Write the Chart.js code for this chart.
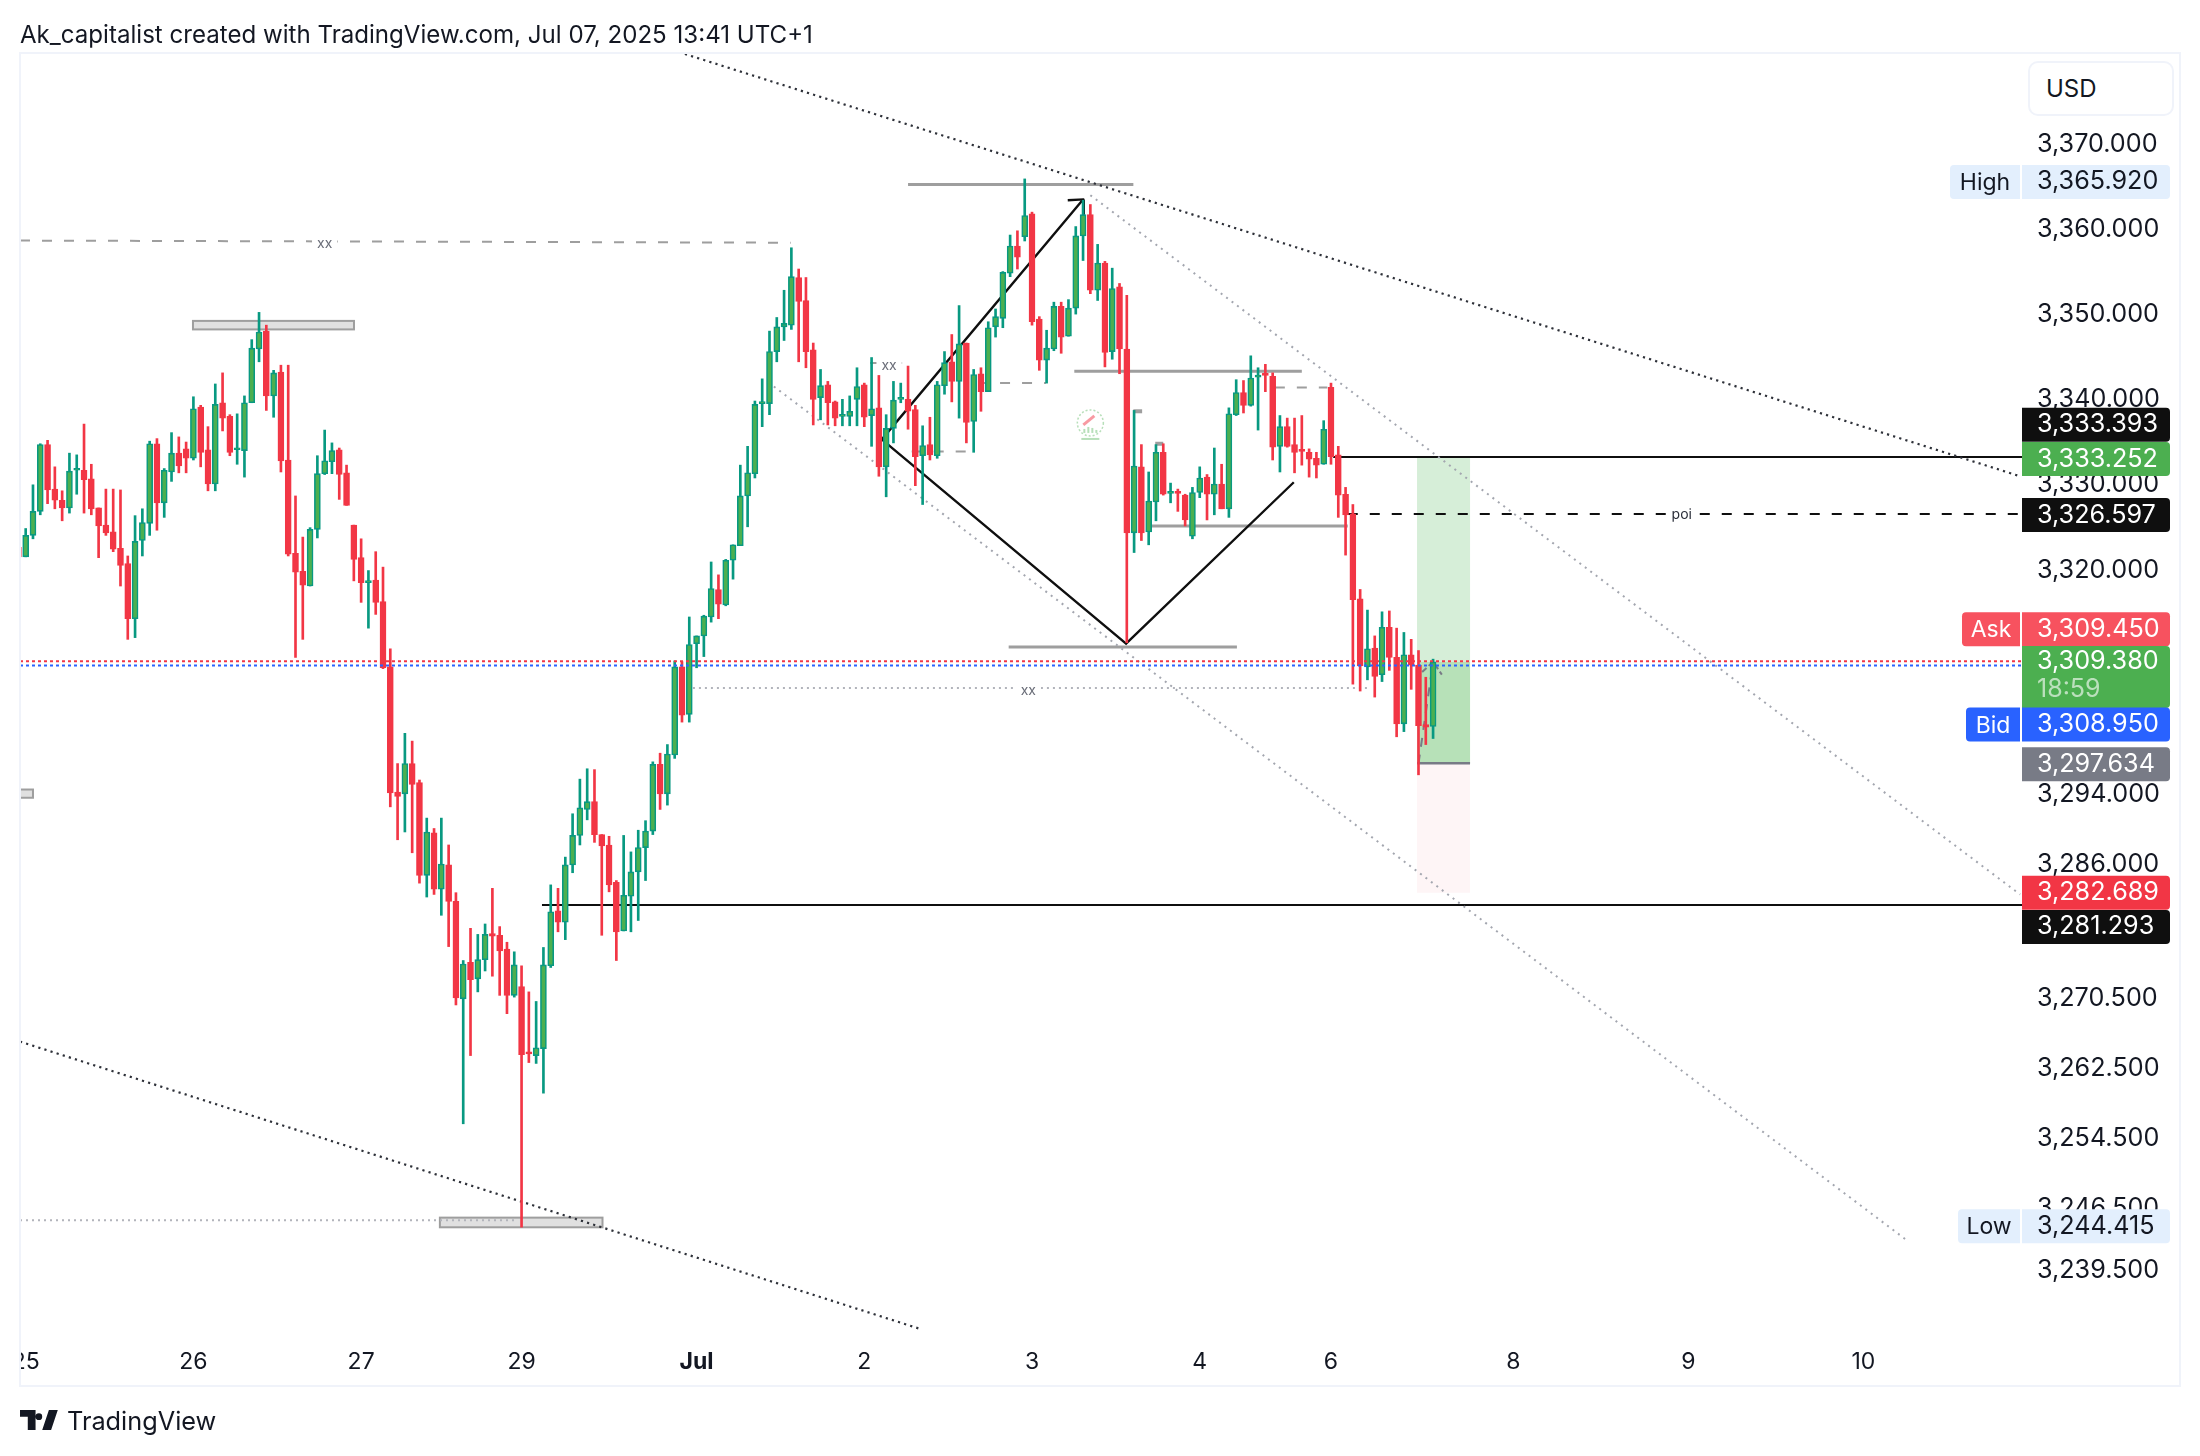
<!DOCTYPE html>
<html>
<head>
<meta charset="utf-8">
<style>
html,body{margin:0;padding:0;background:#fff;width:2200px;height:1456px;overflow:hidden;font-family:Inter,"Liberation Sans",sans-serif;color:#131722}
#wrap{position:relative;width:2200px;height:1456px}
canvas{position:absolute;left:0;top:0}
#title{position:absolute;left:20px;top:20px;font-size:24.1px;line-height:30px;white-space:nowrap;color:#131722}
#usd{position:absolute;left:2028px;top:61px;width:142px;height:51px;border:2px solid #f0f3fa;border-radius:10px;font-size:24px;line-height:51px;text-indent:16px;box-sizing:content-box;background:#fff}
#tv{position:absolute;left:20px;top:1404px;height:32px;display:flex;align-items:center;font-size:25.3px;color:#131722}
#tv svg{width:40px;height:20px;margin-right:7px}
</style>
<script src="https://cdn.jsdelivr.net/npm/chart.js@4/dist/chart.umd.min.js"></script>
</head>
<body>
<div id="wrap">
<canvas id="c" width="2200" height="1456"></canvas>
<div id="title">Ak_capitalist created with TradingView.com, Jul 07, 2025 13:41 UTC+1</div>
<div id="usd">USD</div>
<div id="tv"><svg viewBox="0 0 36 18"><path fill="#131722" d="M14 0H0v6h7v12h7zM34 0h-8l-6 18h8zM20 6a3 3 0 1 0-6 0 3 3 0 0 0 6 0z"/></svg><span>TradingView</span></div>
</div>
<script>
const opens=[3322.7,3321.6,3324.1,3326.9,3334.7,3329.5,3328.2,3327.3,3331.7,3331.7,3330.7,3327.3,3325.3,3324.5,3322.6,3320.8,3314.4,3323.5,3325.5,3334.8,3327.9,3331.5,3333.7,3334.2,3333.1,3339.1,3334.1,3330.1,3339.6,3338.0,3334.1,3334.0,3339.6,3345.9,3348.0,3340.4,3343.2,3332.9,3322.0,3319.9,3318.2,3324.8,3331.3,3332.7,3334.1,3331.4,3325.3,3321.5,3318.6,3318.9,3316.4,3308.8,3294.3,
3294.1,3297.6,3295.4,3284.7,3289.6,3283.1,3285.9,3281.7,3270.5,3274.7,3272.8,3275.0,3278.0,3277.8,3276.2,3270.9,3271.9,3264.4,3264.0,3264.8,3274.3,3280.6,3279.3,3285.9,3289.3,3292.3,3293.2,3289.4,3288.2,3283.9,3278.3,3282.3,3285.1,3287.9,3289.8,3297.5,3294.1,3298.6,3308.8,3303.3,
3311.5,3312.4,3314.6,3317.8,3316.0,3321.2,3322.9,3328.7,3331.3,3339.5,3339.5,3345.6,3348.5,3348.7,3354.3,3351.6,3345.8,3340.2,3341.7,3339.7,3338.0,3338.0,3340.0,3341.7,3338.1,3339.0,3332.1,3336.6,3340.0,3340.0,3338.8,3333.4,3334.7,3333.4,3341.6,3344.4,3342.1,3346.6,3337.4,3343.0,3340.9,3348.5,3349.5,3354.8,3358.0,3359.1,3361.8,3349.4,3344.6,
3345.9,3350.9,3347.4,3350.7,3359.2,3361.7,3352.8,3356.0,3345.6,3353.2,3345.9,3324.4,3332.1,3324.5,3328.0,3333.8,3329.0,3329.2,3328.8,3324.0,3329.1,3330.9,3328.9,3330.1,3327.2,3338.2,3340.8,3339.3,3342.6,3342.9,3342.7,3334.5,3336.8,3334.7,3334.0,3333.8,3333.1,3332.4,3341.4,3333.5,3328.9,
3326.6,3316.7,3308.8,3311.0,3307.9,3313.4,3309.9,3302.2,3310.2,3309.0,3302.1,3301.9];
const highs=[3322.7,3324.9,3330.0,3334.8,3335.2,3332.1,3329.3,3333.7,3333.5,3337.1,3332.4,3327.3,3329.5,3329.5,3329.4,3321.7,3326.4,3327.2,3335.1,3335.4,3331.9,3336.1,3335.6,3335.0,3340.3,3339.3,3336.8,3341.8,3343.1,3338.2,3338.3,3340.4,3347.0,3350.2,3348.7,3343.4,3344.0,3344.0,3328.7,3323.9,3325.0,3333.4,3336.4,3334.9,3334.3,3332.3,3325.3,3323.7,3320.0,3322.2,3320.4,3310.9,3297.6,
3301.1,3300.2,3295.7,3291.3,3290.1,3291.3,3288.2,3282.7,3274.9,3278.6,3277.9,3279.1,3283.2,3278.8,3277.0,3275.9,3274.3,3271.3,3270.2,3276.4,3283.6,3283.2,3286.8,3291.8,3295.8,3297.0,3296.9,3289.4,3289.2,3284.1,3289.3,3287.4,3289.9,3291.0,3297.8,3298.8,3299.8,3309.5,3309.4,3314.6,
3312.4,3314.8,3321.0,3319.5,3321.3,3323.0,3332.3,3334.5,3339.8,3342.4,3348.0,3349.6,3352.8,3357.8,3355.3,3354.3,3346.6,3343.5,3342.1,3339.8,3340.0,3340.4,3343.7,3341.9,3344.9,3342.8,3338.2,3342.1,3341.9,3343.9,3339.3,3336.9,3337.9,3342.1,3345.6,3347.6,3351.0,3346.6,3343.5,3343.7,3349.1,3350.6,3355.0,3359.3,3359.8,3365.92,3362.0,3349.7,3348.1,
3351.4,3351.4,3351.7,3360.3,3363.4,3362.9,3358.2,3356.2,3355.4,3353.6,3352.2,3338.7,3334.7,3331.5,3334.7,3334.8,3330.2,3329.5,3328.9,3329.7,3332.1,3331.2,3334.3,3332.4,3339.0,3342.3,3342.2,3345.1,3343.7,3344.1,3343.1,3338.1,3337.8,3337.8,3338.1,3334.2,3333.8,3337.5,3341.9,3334.5,3329.7,
3327.7,3317.8,3315.4,3312.4,3315.2,3315.3,3313.3,3312.8,3312.0,3310.7,3307.6,3309.7];
const lows=[3321.6,3321.6,3323.7,3326.5,3327.8,3327.2,3325.8,3326.7,3328.9,3326.7,3326.5,3321.5,3324.1,3322.2,3318.2,3312.0,3312.2,3321.7,3324.1,3324.7,3326.2,3330.4,3331.4,3331.4,3332.9,3332.1,3329.3,3329.3,3336.3,3333.4,3332.4,3330.9,3339.6,3344.4,3338.7,3337.9,3331.5,3321.7,3309.9,3312.0,3318.2,3323.8,3331.2,3331.3,3328.3,3327.6,3318.8,3316.3,3313.3,3314.9,3308.6,3292.6,3288.8,
3289.7,3287.3,3283.8,3282.2,3282.5,3280.1,3276.5,3269.8,3256.2,3264.0,3271.3,3273.7,3273.1,3270.9,3268.8,3270.7,3244.415,3263.2,3263.1,3259.7,3274.1,3278.2,3277.3,3285.0,3288.2,3291.1,3288.5,3277.8,3282.8,3274.9,3278.3,3278.2,3279.5,3284.1,3289.4,3292.3,3292.8,3298.2,3302.4,3302.4,
3308.7,3310.0,3314.0,3314.4,3315.9,3319.0,3322.9,3325.1,3330.8,3336.8,3338.2,3344.4,3346.9,3348.2,3344.4,3343.7,3337.0,3337.6,3337.0,3336.9,3336.9,3336.9,3336.9,3336.8,3334.5,3331.0,3328.6,3334.9,3339.6,3336.5,3329.9,3327.7,3332.9,3333.1,3340.6,3339.7,3337.8,3334.9,3333.8,3338.6,3340.9,3347.3,3348.4,3354.4,3355.3,3358.6,3348.7,3343.4,3341.9,
3345.7,3345.4,3347.4,3350.0,3356.3,3352.4,3351.6,3343.8,3344.7,3343.0,3311.6,3322.1,3323.5,3323.0,3325.8,3328.8,3327.9,3326.9,3325.2,3323.7,3328.5,3325.9,3326.5,3327.2,3326.2,3338.1,3338.4,3339.2,3336.4,3340.9,3332.9,3331.5,3334.4,3331.4,3332.3,3330.9,3330.8,3332.4,3332.4,3326.2,3321.8,
3306.8,3306.0,3307.3,3305.3,3307.1,3308.4,3300.7,3301.3,3306.2,3296.3,3299.8,3300.5];
const closes=[3321.6,3324.1,3326.9,3334.7,3329.4,3328.2,3327.3,3331.6,3331.8,3330.6,3327.2,3325.2,3324.4,3322.5,3320.6,3314.4,3323.4,3325.6,3334.8,3327.9,3331.7,3333.7,3332.2,3333.1,3338.9,3333.8,3330.1,3339.4,3337.8,3333.8,3334.3,3339.6,3346.0,3347.9,3340.4,3343.1,3332.8,3321.9,3319.8,3318.3,3324.8,3331.3,3332.8,3334.0,3331.2,3327.6,3321.3,3318.6,3318.8,3316.3,3308.7,3294.2,3293.8,
3297.6,3295.2,3284.7,3289.7,3283.1,3286.0,3281.7,3270.6,3274.5,3272.7,3275.0,3277.9,3277.7,3276.0,3270.9,3274.4,3264.1,3264.2,3264.9,3274.4,3280.5,3279.3,3285.9,3289.3,3292.5,3293.2,3289.4,3288.1,3283.6,3278.2,3282.4,3285.1,3287.9,3289.8,3297.5,3294.1,3298.7,3308.8,3303.2,3311.4,
3312.4,3314.7,3317.9,3316.1,3321.2,3323.0,3328.7,3331.4,3339.4,3339.7,3345.6,3348.5,3348.9,3354.4,3351.5,3345.6,3340.0,3341.6,3339.6,3337.8,3338.1,3338.6,3341.5,3337.9,3338.9,3332.1,3336.6,3339.9,3340.1,3338.6,3333.3,3334.6,3333.5,3341.7,3344.3,3342.1,3346.5,3337.3,3342.9,3340.9,3348.4,3349.7,3354.9,3358.0,3356.7,3361.6,3349.1,3344.6,3346.0,
3350.9,3347.3,3350.7,3359.2,3361.7,3352.8,3356.0,3345.5,3353.0,3345.9,3324.4,3332.2,3324.4,3328.1,3333.8,3328.9,3329.1,3329.0,3325.9,3329.1,3330.8,3328.9,3330.1,3327.2,3338.3,3340.8,3339.3,3342.5,3342.8,3342.8,3334.4,3336.8,3334.5,3333.8,3333.9,3333.0,3332.3,3336.5,3333.3,3328.8,3326.5,
3316.6,3308.9,3310.9,3307.7,3313.4,3309.9,3302.2,3310.2,3309.0,3302.0,3301.8,3309.38];

const priceTicks=[3370,3360,3350,3340,3330,3320,3294,3286,3270.5,3262.5,3254.5,3246.5,3239.5];
const timeTickIndex=[1,24,47,69,93,116,139,162,180,205,229,253];
const timeTickLabels=['25','26','27','29','Jul','2','3','4','6','8','9','10'];
const priceMin=3231.6, priceMax=3380.7, indexMin=0.22, indexMax=274.76;

const askPrice=3309.45, bidPrice=3308.95, lastPrice=3309.38, highPrice=3365.92, lowPrice=3244.415;
const upperLevel=3333.393, upperTarget=3333.252, poiLevel=3326.597, entryLevel=3297.634, stopLevel=3282.689, lowerLevel=3281.293;

const channelTop=[[91.4,3380.7],[274.5,3331.0]];
const channelBottom=[[0.22,3265.6],[123.5,3232.9]];
const channelMidA=[[147,3364.0],[274.5,3282.5]];
const channelMidB=[[103.6,3341.5],[259,3242.9]];
const zigzag=[[174.9,3330.3],[151.9,3311.5],[118.4,3335.3],[146,3363.5]];
const arrowHead=[[143.9,3363.4],[146,3363.5],[146.1,3361.7]];
const slantedDash=[[0.22,3358.65],[105.9,3358.4]];
const solidLevels=[[122,152.9,3365.26],[144.8,176,3343.3],[155.2,182.3,3325.2],[135.8,167.1,3311.1]];
const dashedLevels=[[116.8,122,3344.25],[122.5,130.9,3333.9],[131.6,140.9,3341.9],[172.3,179.5,3341.4]];
const dottedLevels=[[92.5,185,3306.35],[0.22,68,3245.2]];
const stubLevels=[[152.9,154.1,3338.6],[155.9,157,3334.8]];
const positionArrow=[[192,3297.6],[194,3309.4]];
const positionArrowHead=[[192.5,3308.2],[194,3309.4],[195.2,3307.9]];
const positionRange=[191.8,199.07];
const greyBoxes=[[23.94,46.02,3349.2,3348.2],[57.8,80.1,3245.5,3244.4],[0.22,2,3294.6,3293.65]];
const noteLabels=[['xx',42,3358.4],['xx',119.4,3344.1],['xx',138.5,3306.1],['poi',228.1,3326.45]];
const priceTags=[
 {price:highPrice,text:'3,365.920',tag:'High'},
 {price:upperLevel,text:'3,333.393'},
 {price:upperTarget,text:'3,333.252'},
 {price:poiLevel,text:'3,326.597'},
 {price:askPrice,text:'3,309.450',tag:'Ask'},
 {price:lastPrice,text:'3,309.380',sub:'18:59'},
 {price:bidPrice,text:'3,308.950',tag:'Bid'},
 {price:entryLevel,text:'3,297.634'},
 {price:stopLevel,text:'3,282.689'},
 {price:lowerLevel,text:'3,281.293'},
 {price:lowPrice,text:'3,244.415',tag:'Low'}
];

/* ---- styles (layout only) ---- */
const GREEN='#4caf50',TEAL='#089981',RED='#f23645',GREY='#9e9e9e',DOT='#a3a6af',INK='#131722';
const FONT='Inter, "Liberation Sans", sans-serif';
const tagStyle=[
 {bg:'#e3effd',fg:INK,shift:3,left:1950},
 {bg:'#0f0f0f',fg:'#fff',shift:-31},
 {bg:GREEN,fg:'#fff',shift:2},
 {bg:'#0f0f0f',fg:'#fff',shift:1},
 {bg:'#f7525f',fg:'#fff',shift:-32,left:1962},
 {bg:GREEN,fg:'#fff',shift:0,tall:true},
 {bg:'#2962ff',fg:'#fff',shift:59,left:1966},
 {bg:'#787b86',fg:'#fff',shift:1},
 {bg:RED,fg:'#fff',shift:0},
 {bg:'#0f0f0f',fg:'#fff',shift:22},
 {bg:'#e3effd',fg:INK,shift:-1,left:1958}
];

const pts=a=>a.map(([x,y])=>({x,y}));
const level=(x0,x1,p)=>[{x:x0,y:p},{x:x1,y:p}];
function lineDs(data,color,width,dash,order){
  return {type:'line',data,borderColor:color,borderWidth:width,borderDash:dash||[],pointRadius:0,fill:false,tension:0,order:order===undefined?5:order,borderCapStyle:'butt'};
}
const wickData=opens.map((_,i)=>({x:i,y:[lows[i],highs[i]]}));
const bodyData=opens.map((o,i)=>({x:i,y:[o,closes[i]]}));
const isUp=closes.map((c,i)=>c>=opens[i]);

const datasets=[
 {label:'wick',data:wickData,backgroundColor:isUp.map(u=>u?TEAL:RED),borderWidth:0,barThickness:2,grouped:false,order:3},
 {label:'body',data:bodyData,backgroundColor:isUp.map(u=>u?GREEN:RED),borderColor:isUp.map(u=>u?TEAL:RED),borderWidth:1.6,borderSkipped:false,barThickness:6,minBarLength:2,grouped:false,order:2},
 lineDs(pts(channelTop),'#2e3139',2.2,[2.2,4.2]),
 lineDs(pts(channelBottom),'#2e3139',2.2,[2.2,4.2]),
 lineDs(pts(channelMidA),DOT,2,[2,4.8]),
 lineDs(pts(channelMidB),DOT,2,[2,4.8]),
 lineDs(pts(zigzag),'#0f0f0f',2.4),
 lineDs(pts(arrowHead),'#0f0f0f',2.4),
 lineDs(level(180.3,indexMax,upperTarget),'#0f0f0f',2),
 lineDs(level(182.3,indexMax,poiLevel),'#0f0f0f',2,[10,12]),
 lineDs(level(71.8,indexMax,lowerLevel),'#0f0f0f',2),
 lineDs(level(positionRange[0],positionRange[1],entryLevel),'#787b86',2.4),
 lineDs(pts(positionArrow),'#787b86',2,[9,8]),
 lineDs(pts(positionArrowHead),'#787b86',2,[6,3]),
 lineDs(pts(slantedDash),GREY,2,[10,12]),
 ...solidLevels.map(([a,b,p])=>lineDs(level(a,b,p),GREY,3)),
 ...dashedLevels.map(([a,b,p])=>lineDs(level(a,b,p),GREY,2,[10,12])),
 ...dottedLevels.map(([a,b,p])=>lineDs(level(a,b,p),'#b2b4bb',2,[2,4])),
 ...stubLevels.map(([a,b,p])=>lineDs(level(a,b,p),GREY,4)),
 lineDs(level(indexMin,indexMax,askPrice),RED,2,[3,3],1),
 lineDs(level(indexMin,indexMax,bidPrice),'#2962ff',2,[3,3],1)
];

const zonesPlugin={
 id:'zones',
 beforeDatasetsDraw(ch){
  const {ctx,scales:{x,y}}=ch;
  const L=x.getPixelForValue(positionRange[0]),R=x.getPixelForValue(positionRange[1]);
  const band=(a,b,c)=>{const t=y.getPixelForValue(a),u=y.getPixelForValue(b);ctx.fillStyle=c;ctx.fillRect(L,t,R-L,u-t);};
  ctx.save();
  band(upperTarget,lastPrice,'#d6eed8');
  band(lastPrice,entryLevel,'#b7e1b8');
  band(entryLevel,stopLevel,'#fef5f6');
  greyBoxes.forEach(([a,b,p,q])=>{
    const l=x.getPixelForValue(a),r=x.getPixelForValue(b),t=y.getPixelForValue(p),u=y.getPixelForValue(q);
    ctx.fillStyle='#e0e0e0';ctx.strokeStyle=GREY;ctx.lineWidth=2;
    ctx.fillRect(l,t,r-l,u-t);ctx.strokeRect(l,t,r-l,u-t);
  });
  /* faint watermark */
  const cx=x.getPixelForValue(147),cy=y.getPixelForValue(3337.0);
  ctx.setLineDash([2,2]);ctx.lineWidth=1.5;ctx.strokeStyle='rgba(76,175,80,.4)';
  ctx.beginPath();ctx.arc(cx,cy-2,13,0,Math.PI*2);ctx.stroke();
  ctx.setLineDash([]);ctx.strokeStyle='rgba(242,54,69,.5)';ctx.lineWidth=3;
  ctx.beginPath();ctx.moveTo(cx-7,cy);ctx.lineTo(cx+4,cy-9);ctx.stroke();
  ctx.strokeStyle='rgba(76,175,80,.4)';ctx.lineWidth=2;
  [[-6,4],[-2,6],[2,5],[6,3]].forEach(([d,h])=>{ctx.beginPath();ctx.moveTo(cx+d,cy+8);ctx.lineTo(cx+d,cy+8-h);ctx.stroke();});
  ctx.beginPath();ctx.moveTo(cx-9,cy+14);ctx.lineTo(cx+9,cy+14);ctx.stroke();
  ctx.restore();
 },
 afterDatasetsDraw(ch){
  const {ctx,scales:{x,y}}=ch;
  ctx.save();
  ctx.font='14px '+FONT;ctx.textAlign='center';ctx.textBaseline='middle';
  noteLabels.forEach(([t,v,p])=>{
    const px=x.getPixelForValue(v),py=y.getPixelForValue(p);
    const w=ctx.measureText(t).width+10;
    ctx.fillStyle='#fff';ctx.fillRect(px-w/2,py-8,w,16);
    ctx.fillStyle=t==='poi'?'#2a2e39':'#6a6d78';ctx.fillText(t,px,py+(t==='xx'?1:0));
  });
  ctx.restore();
 },
 afterDraw(ch){
  const {ctx,scales:{y}}=ch;
  ctx.save();
  ctx.fillStyle='#fff';ctx.fillRect(0,1342,19,42);
  ctx.strokeStyle='#f0f3fa';ctx.lineWidth=2;ctx.strokeRect(20,53,2160,1333);
  ctx.textBaseline='middle';
  priceTags.forEach((t,i)=>{
    const s=tagStyle[i];
    const py=y.getPixelForValue(t.price)+s.shift;
    if(s.tall){
      ctx.fillStyle=s.bg;ctx.beginPath();ctx.roundRect(2022,646,148,62,[0,4,4,0]);ctx.fill();
      ctx.fillStyle=s.fg;ctx.font='25.2px '+FONT;ctx.textAlign='left';ctx.fillText(t.text,2037,py);
      ctx.fillStyle='rgba(255,255,255,.62)';ctx.font='25px '+FONT;ctx.fillText(t.sub,2037,py+28);
      return;
    }
    ctx.fillStyle=s.bg;ctx.beginPath();ctx.roundRect(2022,py-17,148,34,[0,4,4,0]);ctx.fill();
    ctx.fillStyle=s.fg;ctx.font='25.2px '+FONT;ctx.textAlign='left';ctx.fillText(t.text,2037,py);
    if(t.tag){
      ctx.fillStyle=s.bg;ctx.beginPath();ctx.roundRect(s.left,py-17,2020-s.left,34,[4,0,0,4]);ctx.fill();
      ctx.fillStyle=s.fg;ctx.font='23px '+FONT;ctx.textAlign='center';ctx.fillText(t.tag,(s.left+2020)/2,py+1);
    }
  });
  ctx.restore();
 }
};

new Chart(document.getElementById('c'),{
 type:'bar',
 data:{datasets},
 plugins:[zonesPlugin],
 options:{
  responsive:false,animation:false,devicePixelRatio:1,events:[],
  layout:{padding:{left:20,top:54,right:20,bottom:70}},
  plugins:{legend:{display:false},tooltip:{enabled:false},title:{display:false}},
  scales:{
   x:{type:'linear',min:indexMin,max:indexMax,offset:false,
      grid:{display:false,drawTicks:false,offset:false},border:{display:false},
      afterFit:s=>{s.height=46;},
      afterBuildTicks:s=>{s.ticks=timeTickIndex.map(value=>({value}));},
      ticks:{autoSkip:false,maxRotation:0,minRotation:0,padding:8,color:INK,
        font:c=>({family:FONT,size:23,weight:c.tick&&c.tick.value===93?'700':'400'}),
        callback:v=>timeTickLabels[timeTickIndex.indexOf(v)]}},
   y:{type:'logarithmic',position:'right',min:priceMin,max:priceMax,
      grid:{display:false,drawTicks:false},border:{display:false},
      afterFit:s=>{s.width=158;},
      afterBuildTicks:s=>{s.ticks=priceTicks.map(value=>({value}));},
      ticks:{autoSkip:false,padding:15,color:INK,font:{family:FONT,size:25.2},
        callback:v=>v.toLocaleString('en-US',{minimumFractionDigits:3,maximumFractionDigits:3})}}
  }
 }
});
</script>
</body>
</html>
